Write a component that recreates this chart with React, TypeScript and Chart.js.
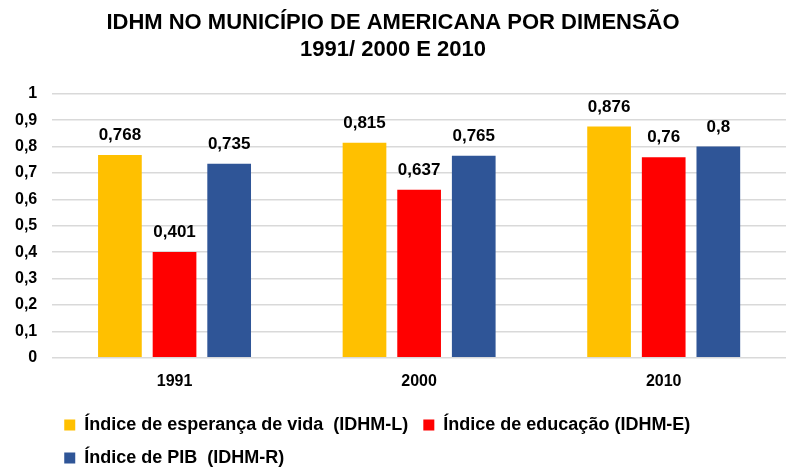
import React, { useEffect, useRef } from "react";
import { Chart, registerables } from "chart.js";

Chart.register(...registerables);

const years = ["1991", "2000", "2010"];
const longevidade = [0.768, 0.815, 0.876];
const educacao = [0.401, 0.637, 0.76];
const renda = [0.735, 0.765, 0.8];
const seriesLabels = [
  "Índice de esperança de vida  (IDHM-L)",
  "Índice de educação (IDHM-E)",
  "Índice de PIB  (IDHM-R)",
];
const titleLines = ["IDHM NO MUNICÍPIO DE AMERICANA POR DIMENSÃO", "1991/ 2000 E 2010"];

const FONT = "'Liberation Sans', Arial, sans-serif";

const fmt = (v: number) => String(v).replace(".", ",");

// value labels above each bar
const valueLabels = {
  id: "valueLabels",
  afterDatasetsDraw(chart: any) {
    const ctx = chart.ctx;
    ctx.save();
    ctx.font = `bold 17px ${FONT}`;
    ctx.fillStyle = "#000";
    ctx.textAlign = "center";
    ctx.textBaseline = "bottom";
    chart.data.datasets.forEach((ds: any, i: number) => {
      chart.getDatasetMeta(i).data.forEach((bar: any, j: number) => {
        ctx.fillText(fmt(ds.data[j]), bar.x, bar.y - 11);
      });
    });
    ctx.restore();
  },
};

// nudge the legend a little left and down, like the original
const legendShift = {
  id: "legendShift",
  afterLayout(chart: any) {
    if (chart.legend) {
      chart.legend.left -= 3;
      chart.legend.top += 4;
    }
  },
};

const App: React.FC = () => {
  const chartRef = useRef<HTMLCanvasElement | null>(null);
  const chartInstance = useRef<Chart | null>(null);

  useEffect(() => {
    if (!chartRef.current) return;
    if (chartInstance.current) chartInstance.current.destroy();

    chartInstance.current = new Chart(chartRef.current, {
      type: "bar",
      data: {
        labels: years,
        datasets: [
          { label: seriesLabels[0], data: longevidade, backgroundColor: "#FFC000" },
          { label: seriesLabels[1], data: educacao, backgroundColor: "#FF0000" },
          { label: seriesLabels[2], data: renda, backgroundColor: "#2F5597" },
        ],
      },
      options: {
        animation: false,
        responsive: true,
        maintainAspectRatio: false,
        layout: { padding: { left: 0, right: 12, top: 8, bottom: 0 } },
        datasets: {
          bar: { categoryPercentage: 0.67, barPercentage: 0.8 },
        },
        plugins: {
          title: {
            display: true,
            text: titleLines,
            color: "#000",
            font: { family: FONT, size: 22, weight: "bold", lineHeight: 1.2 },
            padding: { top: 2, bottom: 31 },
          },
          legend: {
            position: "bottom",
            align: "start",
            fullSize: false,
            labels: {
              color: "#000",
              font: { family: FONT, size: 18, weight: "bold" },
              boxWidth: 11,
              boxHeight: 11,
              padding: 15,
            },
          },
          tooltip: { enabled: false },
        },
        scales: {
          x: {
            grid: { display: false },
            border: { display: false },
            ticks: {
              color: "#000",
              font: { family: FONT, size: 16, weight: "bold" },
              padding: 6,
            },
          },
          y: {
            min: 0,
            max: 1,
            ticks: {
              stepSize: 0.1,
              color: "#000",
              font: { family: FONT, size: 16, weight: "bold" },
              padding: 15,
              callback: (v: any) => fmt(Math.round(Number(v) * 10) / 10),
            },
            grid: { color: "#D9D9D9", lineWidth: 1.5, drawTicks: false },
            border: { display: false },
          },
        },
      },
      plugins: [valueLabels, legendShift],
    });

    return () => {
      if (chartInstance.current) {
        chartInstance.current.destroy();
        chartInstance.current = null;
      }
    };
  }, []);

  return (
    <div style={{ position: "fixed", left: 0, top: 0, width: 798, height: 473, background: "#fff" }}>
      <canvas ref={chartRef} />
    </div>
  );
};

export default App;
